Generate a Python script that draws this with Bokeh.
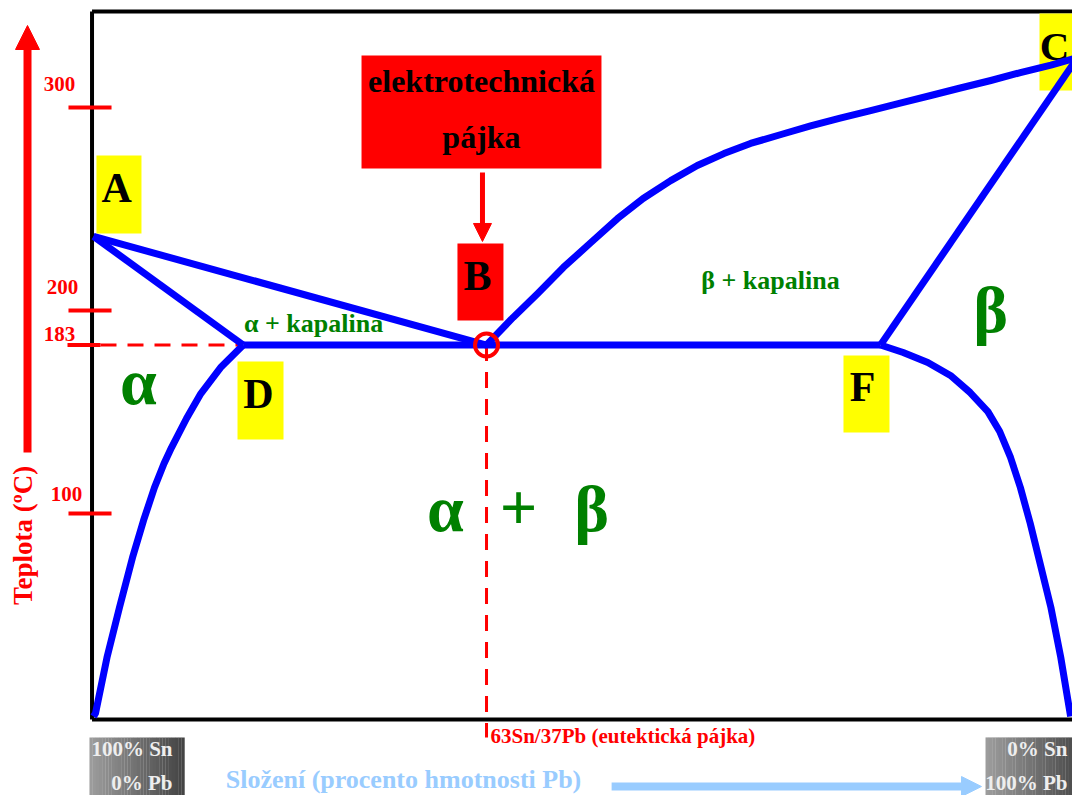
from bokeh.plotting import figure
from bokeh.models import Range1d, Arrow, NormalHead
from bokeh.core.properties import value
from bokeh.embed import file_html
from bokeh.resources import INLINE
import math

# ---------------- data (composition in wt% Pb, temperature in deg C) -------------
tick_temps = [300, 200, 183, 100]
tick_labels = ["300", "200", "183", "100"]

# key points
pt_A = (0.0, 236.5)
pt_B = (39.9, 183.0)
pt_C = (99.9, 324.6)
pt_D = (15.2, 183.0)
pt_F = (79.9, 183.0)

# liquidus A -> B (straight)
liq_left_x = [0.0, 39.9]
liq_left_t = [236.5, 183.0]
# liquidus B -> C (curved)
liq_right_x = [39.9, 42.6, 45.1, 47.7, 50.5, 53.2, 55.8, 58.6, 61.3, 64.0, 66.7,
               69.8, 72.8, 75.8, 78.9, 81.9, 85.0, 88.0, 91.1, 94.1, 97.2, 99.9]
liq_right_t = [183.0, 196.6, 208.4, 221.2, 233.5, 245.3, 255.2, 264.0, 271.4, 277.3, 282.3,
               286.7, 290.9, 294.8, 298.5, 302.2, 305.9, 309.6, 313.3, 317.2, 320.9, 324.6]
# solidus A -> D
sol_left_x = [0.0, 15.2]
sol_left_t = [236.5, 183.0]
# eutectic line D -> F
eut_x = [15.2, 79.9]
eut_t = [183.0, 183.0]
# solidus F -> C
sol_right_x = [79.9, 99.9]
sol_right_t = [183.0, 324.6]
# solvus on Sn side (D -> 0 deg)
solv_left_x = [15.2, 12.9, 10.9, 9.44, 7.92, 7.16, 6.19, 5.08, 3.96, 2.64, 1.37, 0.2, 0.0]
solv_left_t = [183.0, 171.9, 159.1, 146.8, 132.5, 124.6, 112.8, 96.6, 78.3, 53.7, 29.1, 1.5, 0.0]
# solvus on Pb side (F -> 0 deg)
solv_right_x = [79.9, 82.2, 84.7, 87.0, 89.0, 90.8, 92.0, 93.1, 94.1, 95.1, 96.1, 97.2, 98.2, 99.2]
solv_right_t = [183.0, 179.3, 174.4, 168.0, 159.6, 150.2, 140.4, 127.6, 112.8, 95.1, 75.4, 53.7, 29.1, 0.0]

# ---------------- figure ----------------
p = figure(width=1072, height=795, x_range=Range1d(-9.442, 99.391),
           y_range=Range1d(-38.92, 352.71), x_axis_type=None, y_axis_type=None,
           output_backend="svg", toolbar_location=None, min_border=0)
p.grid.visible = False
p.outline_line_color = None
p.background_fill_color = "white"

FONT = value("Liberation Serif")
RED = "#FF0000"
BLUE = "#0000FF"
GREEN = "#008000"
YELLOW = "#FFFF00"
LBLUE = "#99CCFF"


def label(x, y, s, size, color, align="center", baseline="alphabetic", angle=0.0):
    p.text(x=[x], y=[y], text=[s], text_font=FONT, text_font_size=f"{size}px",
           text_font_style="bold", text_color=color, text_align=align,
           text_baseline=baseline, angle=angle)


# frame
fl, fb, ft = -0.15, -1.5, 347.3
p.line([fl, fl], [fb, ft], line_color="black", line_width=4)
p.line([fl, 101], [ft, ft], line_color="black", line_width=4)
p.line([fl, 101], [fb, fb], line_color="black", line_width=4)

# coloured boxes
p.quad(left=[0.30, 14.62, 76.14, 96.04], right=[4.87, 19.29, 80.81, 100.7],
       bottom=[237.9, 136.5, 139.9, 308.4], top=[276.4, 174.9, 177.8, 346.3],
       fill_color=YELLOW, line_color=None)
p.quad(left=[27.21, 36.95], right=[51.57, 41.62], bottom=[269.95, 195.1],
       top=[325.6, 233.0], fill_color=RED, line_color=None)

# gray gradient boxes at the bottom
n = 30
for (x0, x1) in [(-0.41, 9.24), (90.56, 100.7)]:
    lefts, rights, cols = [], [], []
    for i in range(n):
        f = i / (n - 1)
        g = int(round(0x9c + (0x44 - 0x9c) * f))
        lefts.append(x0 + (x1 - x0) * i / n)
        rights.append(x0 + (x1 - x0) * (i + 1) / n + 0.02)
        cols.append("#%02x%02x%02x" % (g, g, g))
    p.quad(left=lefts, right=rights, bottom=[-40] * n, top=[-10.3] * n,
           fill_color=cols, line_color=None)

# temperature ticks (red)
for t in tick_temps:
    if t == 183:
        p.line([-2.64, 0.71], [t, t], line_color=RED, line_width=4)
        p.line([0.71, pt_D[0]], [t, t], line_color=RED, line_width=3, line_dash="16 11")
    else:
        p.line([-2.54, 1.83], [t, t], line_color=RED, line_width=4)
tick_x = [-3.45, -3.15, -3.45, -2.74]
tick_anchor = [311.8, 211.8, 188.2, 109.4]
for tx, ty, s in zip(tick_x, tick_anchor, tick_labels):
    label(tx, ty, s, 21, RED)

# eutectic vertical dashed line
p.line([pt_B[0], pt_B[0]], [pt_B[1], -10.3], line_color=RED, line_width=3, line_dash="16 11")

# axis arrows
p.add_layout(Arrow(end=NormalHead(size=24, fill_color=RED, line_color=RED),
                   x_start=-6.70, y_start=130.0, x_end=-6.70, y_end=340.4,
                   line_color=RED, line_width=8))
p.add_layout(Arrow(end=NormalHead(size=20, fill_color=LBLUE, line_color=LBLUE),
                   x_start=52.6, y_start=-34.5, x_end=90.15, y_end=-34.5,
                   line_color=LBLUE, line_width=8))
p.add_layout(Arrow(end=NormalHead(size=18, fill_color=RED, line_color=RED),
                   x_start=39.49, y_start=268.0, x_end=39.49, y_end=234.0,
                   line_color=RED, line_width=5))

# texts
label(2.34, 260.2, "A", 42, "black")
label(38.98, 216.8, "B", 42, "black")
label(97.56, 330.1, "C", 41, "black")
label(16.75, 158.7, "D", 42, "black")
label(78.07, 162.1, "F", 42, "black")
label(39.39, 313.1, "elektrotechnická", 32, "black")
label(39.39, 285.5, "pájka", 32, "black")
label(22.34, 193.8, "α + kapalina", 26, GREEN)
label(68.73, 215.0, "β + kapalina", 26, GREEN)
label(4.57, 165.2, "α", 66, GREEN)
label(91.07, 200.7, "β", 66, GREEN)
label(35.74, 102.7, "α", 66, GREEN)
label(43.15, 102.7, "+", 66, GREEN)
label(50.56, 102.7, "β", 66, GREEN)
label(40.3, -9.66, "63Sn/37Pb (eutektická pájka)", 21, RED, align="left")
label(31.47, -30.9, "Složení (procento hmotnosti Pb)", 26, LBLUE)
label(8.02, -16.06, "100% Sn", 21, "#eeeeee", align="right")
label(8.02, -32.6, "0% Pb", 21, "#eeeeee", align="right")
label(98.88, -16.06, "0% Sn", 21, "#eeeeee", align="right")
label(98.88, -32.6, "100% Pb", 21, "#eeeeee", align="right")
label(-7.2, 89.2, "Teplota (ºC)", 27, RED, baseline="middle", angle=math.pi / 2)

# phase boundaries (blue)
for xs, ts in [(liq_left_x, liq_left_t), (liq_right_x, liq_right_t),
               (sol_left_x, sol_left_t), (eut_x, eut_t), (sol_right_x, sol_right_t),
               (solv_left_x, solv_left_t), (solv_right_x, solv_right_t)]:
    p.line(xs, ts, line_color=BLUE, line_width=7, line_join="round")

# eutectic point marker
p.scatter([pt_B[0]], [pt_B[1]], marker="circle", size=23, fill_color=None,
          line_color=RED, line_width=4)

open("out.html", "w").write(file_html(p, INLINE))
